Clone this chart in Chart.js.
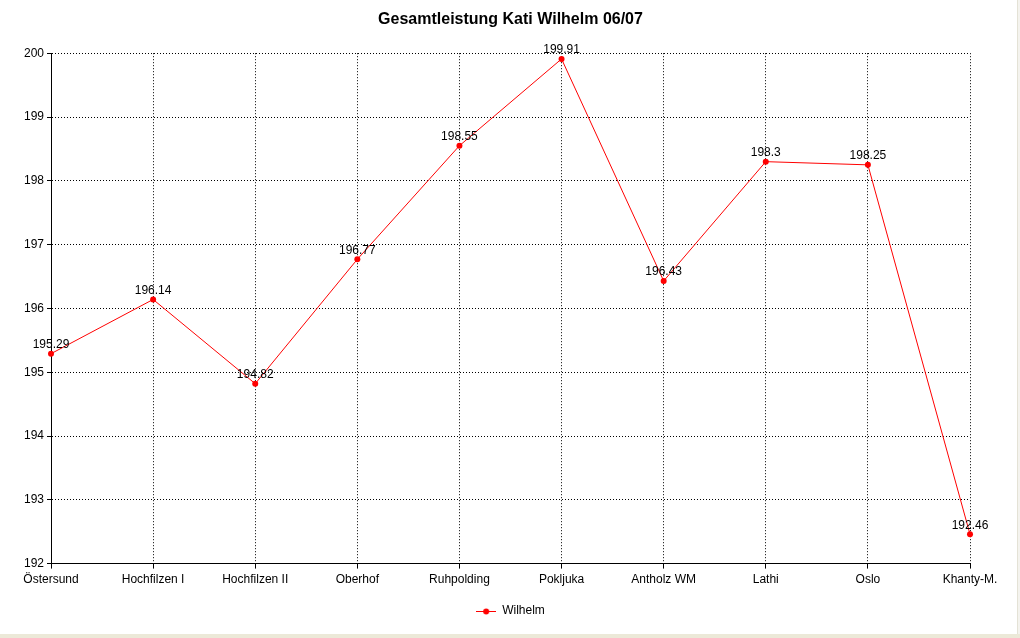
<!DOCTYPE html>
<html>
<head>
<meta charset="utf-8">
<script src="https://cdn.jsdelivr.net/npm/chart.js@4.4.0/dist/chart.umd.min.js"></script>
<style>
  html, body { margin: 0; padding: 0; background: #fff; }
  #wrap { position: relative; width: 1020px; height: 638px; overflow: hidden; }
  #myChart { display: block; }
  #strip { position: absolute; left: 0; top: 634px; width: 1020px; height: 4px; background: #ece9d8; }
  #edge { position: absolute; left: 1017px; top: 0; width: 3px; height: 634px; background: #f4f3ee; border-left: 1px solid #e4e2d6; }
</style>
</head>
<body>
<div id="wrap">
  <canvas id="myChart" width="1020" height="634"></canvas>
  <div id="edge"></div>
  <div id="strip"></div>
</div>
<script>
'use strict';

// Daten
const categories = ['Östersund', 'Hochfilzen I', 'Hochfilzen II', 'Oberhof', 'Ruhpolding',
    'Pokljuka', 'Antholz WM', 'Lathi', 'Oslo', 'Khanty-M.'];
const wilhelm = [195.29, 196.14, 194.82, 196.77, 198.55, 199.91, 196.43, 198.3, 198.25, 192.46];
const yMin = 192;
const yMax = 200;
const yStep = 1;

(function () {
    const FONT = "'Liberation Sans', Arial, sans-serif";

    // Legendensymbol: Linie mit Punkt
    const sym = document.createElement('canvas');
    sym.width = 20; sym.height = 8;
    const sc = sym.getContext('2d');
    sc.strokeStyle = '#ff0000';
    sc.lineWidth = 1;
    sc.beginPath(); sc.moveTo(0, 4.5); sc.lineTo(20, 4.5); sc.stroke();
    sc.fillStyle = '#ff0000';
    sc.beginPath(); sc.arc(10, 4.5, 3, 0, Math.PI * 2); sc.fill();

    // Wertebeschriftung über den Punkten
    const valueLabels = {
        id: 'valueLabels',
        afterDatasetsDraw(chart) {
            const ctx = chart.ctx;
            const meta = chart.getDatasetMeta(0);
            ctx.save();
            ctx.font = '12px ' + FONT;
            ctx.fillStyle = '#000';
            ctx.textAlign = 'center';
            ctx.textBaseline = 'middle';
            meta.data.forEach((pt, i) => {
                ctx.fillText(String(chart.data.datasets[0].data[i]), pt.x, pt.y - 9);
            });
            ctx.restore();
        }
    };

    const config = {
        type: 'line',
        data: {
            labels: categories,
            datasets: [{
                label: 'Wilhelm',
                data: wilhelm,
                borderColor: '#ff0000',
                backgroundColor: '#ff0000',
                borderWidth: 1,
                pointRadius: 3,
                pointBorderWidth: 0,
                pointBackgroundColor: '#ff0000',
                tension: 0,
                fill: false
            }]
        },
        options: {
            responsive: false,
            animation: false,
            layout: { padding: { left: 0, right: 50, top: 0, bottom: 7 } },
            plugins: {
                title: {
                    display: true,
                    fullSize: false,
                    text: 'Gesamtleistung Kati Wilhelm 06/07',
                    color: '#000',
                    font: { family: FONT, size: 16, weight: 'bold' },
                    padding: { top: 10, bottom: 24 }
                },
                legend: {
                    display: true,
                    position: 'bottom',
                    fullSize: false,
                    labels: {
                        color: '#000',
                        font: { family: FONT, size: 12 },
                        usePointStyle: true,
                        pointStyle: sym,
                        pointStyleWidth: 20,
                        padding: 10
                    }
                },
                tooltip: { enabled: false }
            },
            scales: {
                x: {
                    offset: false,
                    afterFit: scale => { scale.height += 4; },
                    grid: {
                        color: '#000',
                        tickBorderDash: [],
                        tickColor: '#000',
                        tickLength: 5,
                        offset: false
                    },
                    border: { display: true, color: '#000', width: 1, dash: [1, 2] },
                    ticks: {
                        color: '#000',
                        font: { family: FONT, size: 12 },
                        padding: 4,
                        maxRotation: 0,
                        autoSkip: false
                    }
                },
                y: {
                    min: yMin,
                    max: yMax,
                    afterFit: scale => { scale.width = 51; },
                    grid: {
                        color: '#000',
                        tickBorderDash: [],
                        tickColor: '#000',
                        tickLength: 4
                    },
                    border: { display: true, color: '#000', width: 1, dash: [1, 2] },
                    ticks: {
                        stepSize: yStep,
                        color: '#000',
                        font: { family: FONT, size: 12 },
                        padding: 3
                    }
                }
            }
        },
        plugins: [valueLabels]
    };

    const myChart = new Chart(document.getElementById('myChart'), config);
    console.log(myChart.chartArea);
})();
</script>
</body>
</html>
